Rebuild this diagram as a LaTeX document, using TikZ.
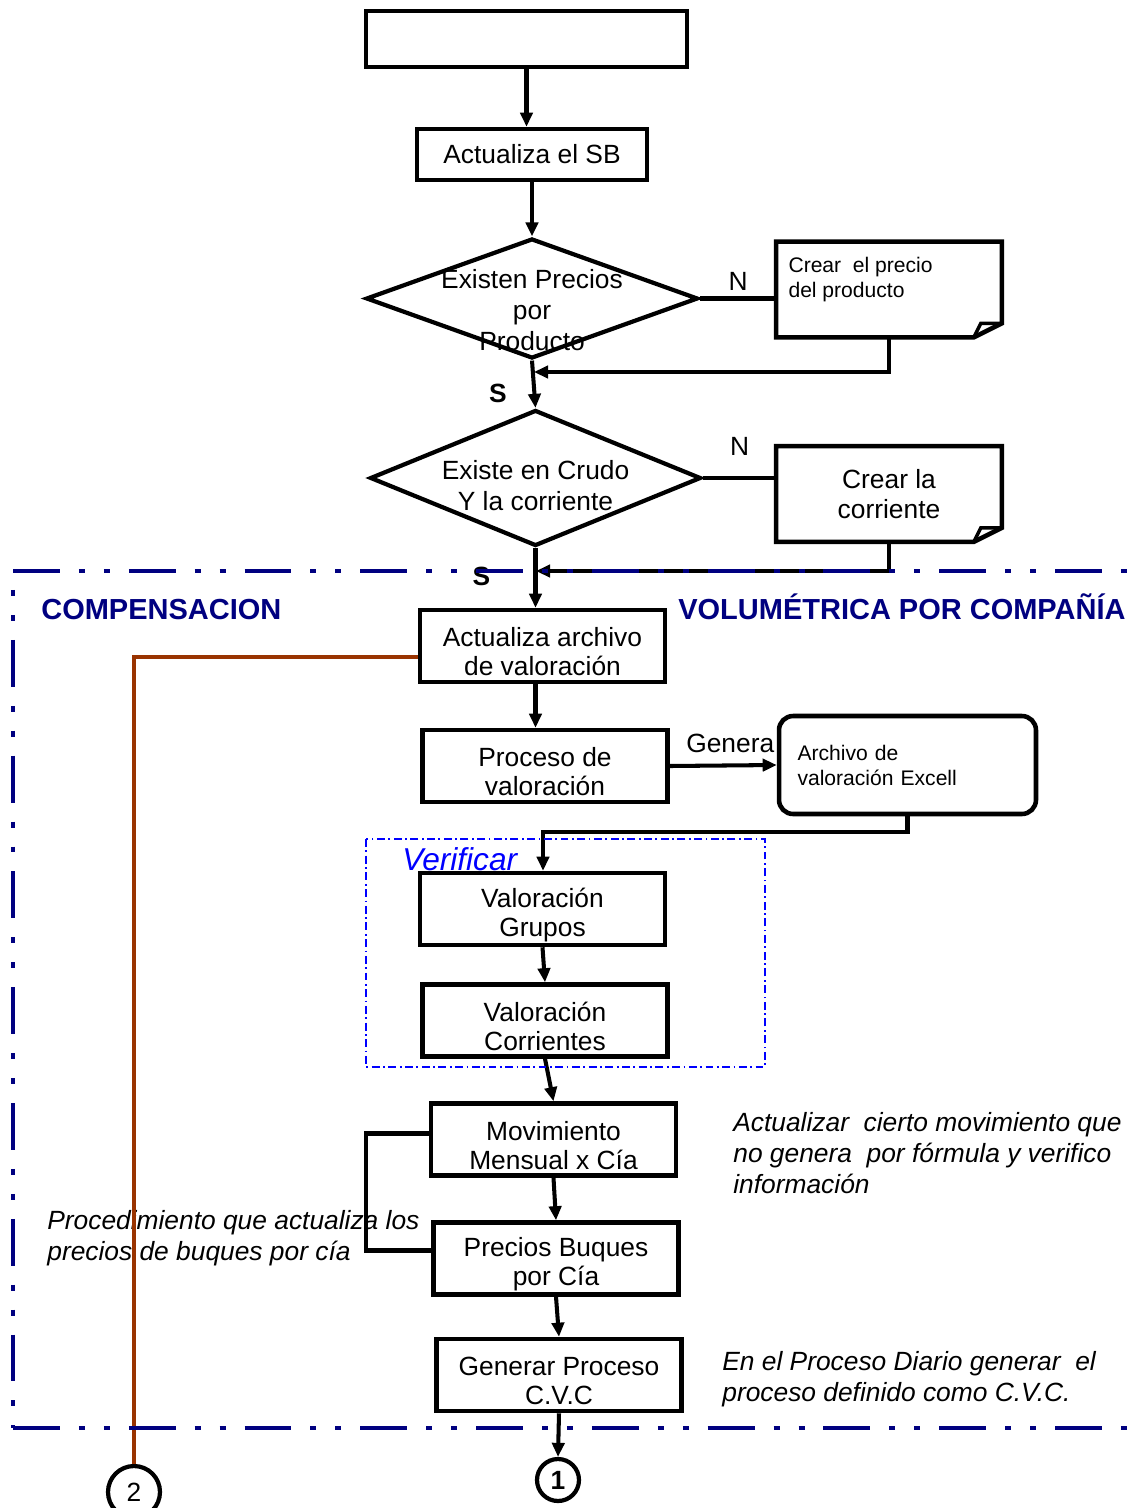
\documentclass[tikz,border=0pt]{standalone}
\usepackage{fontspec}
\setmainfont{Liberation Sans}
\usetikzlibrary{shapes.geometric, arrows.meta, positioning, calc}
\definecolor{navy}{RGB}{0,0,128}
\definecolor{rust}{RGB}{153,51,0}

\begin{document}
\begin{tikzpicture}[
  x=0.02cm, y=-0.02cm,
  box/.style={rectangle, draw, line width=2.6pt, minimum width=4.9cm, minimum height=1.44cm, align=center, inner sep=2pt, font=\fontsize{15}{16.5}\selectfont},
  boxtxt/.style={align=center, inner sep=0pt, yshift=-0.12cm, font=\fontsize{15}{16.5}\selectfont},
  dec/.style={diamond, draw, line width=2.4pt, inner sep=0pt},
  dectxt/.style={align=center, inner sep=0pt, font=\fontsize{15}{17.6}\selectfont},
  note/.style={rectangle, minimum width=4.5cm, minimum height=1.9cm, align=center, font=\fontsize{15}{17.5}\selectfont},
  small/.style={align=left, inner sep=0pt, font=\fontsize{12}{14.2}\selectfont},
  memo/.style={anchor=north west, inner sep=0pt, align=left, font=\fontsize{15}{17.6}\selectfont\itshape},
  title/.style={anchor=base west, inner sep=0pt, text=navy, font=\fontsize{16.5}{19}\selectfont\bfseries},
  lbl/.style={font=\fontsize{15}{17}\selectfont},
  conn/.style={circle, draw, line width=2.4pt, inner sep=0pt, font=\fontsize{15}{17}\selectfont},
  arr/.style={-{Triangle[length=8pt, width=7pt]}, line width=2.3pt},
  link/.style={line width=2.3pt},
  frame/.style={draw=navy, line width=2.6pt, dash pattern=on 26.7pt off 10.8pt on 3.4pt off 10.8pt on 3.4pt off 10.8pt},
  verif/.style={draw=blue, line width=0.9pt, dash pattern=on 4.5pt off 2pt on 1pt off 2pt}
]

\useasboundingbox (0,0) rectangle (1140,1508);

% upper part
\node[box, minimum width=6.42cm, minimum height=1.12cm] (start) at (526.5,39) {};
\node[box, minimum width=4.6cm, minimum height=1.02cm] (sb) at (532,154.5) {Actualiza el SB};
\node[dec, minimum width=6.64cm, minimum height=2.4cm, label={[dectxt, yshift=-0.24cm]center:Existen Precios\\por\\Producto}] (d1) at (532,298.5) {};
\node[note] (crear1) at (889,289.5) {};
\node[small, anchor=north west] (crear1txt) at ($(crear1.north west)+(12,15)$) {Crear\ \ el precio\\del producto};
\node[dec, minimum width=6.62cm, minimum height=2.72cm, label={[dectxt, yshift=-0.16cm]center:Existe en Crudo\\Y la corriente}] (d2) at (535.5,478) {};
\node[note] (crear2) at (889,494) {Crear la\\corriente};

\foreach \n in {crear1,crear2} {
  \draw[line width=2.6pt] (\n.north west) -- (\n.north east) -- ($(\n.south east)+(0,-14)$)
    -- ($(\n.south east)+(-28,0)$) -- (\n.south west) -- cycle;
  \draw[line width=2pt] ($(\n.south east)+(-28,0)$) -- ($(\n.south east)+(-21,-14)$) -- ($(\n.south east)+(0,-14)$);
}

% compensacion block
\node[title] (tleft) at (41,619) {COMPENSACION};
\node[title] (tright) at (678,619) {VOLUMÉTRICA POR COMPAÑÍA};
\node[box, label={[boxtxt]center:Actualiza archivo\\de valoración}] (archivo) at (542.5,646) {};
\node[box, label={[boxtxt]center:Proceso de\\valoración}] (proceso) at (545,766) {};
\node[box, rounded corners=8pt, minimum width=5.14cm, minimum height=1.96cm, text width=4.4cm, align=left, font=\fontsize{12}{14.2}\selectfont] (excel) at (907.5,765) {Archivo de\\valoración Excell};
\node[anchor=north west, inner sep=0pt, text=blue, font=\fontsize{18}{20}\selectfont\itshape] (verlbl) at (402,847) {Verificar};
\node[box, label={[boxtxt]center:Valoración\\Grupos}] (grupos) at (542.5,909) {};
\node[box, label={[boxtxt]center:Valoración\\Corrientes}] (corrientes) at (545,1020.5) {};
\node[box, label={[boxtxt]center:Movimiento\\Mensual x Cía}] (movimiento) at (553.5,1139.5) {};
\node[box, label={[boxtxt]center:Precios Buques\\por Cía}] (buques) at (556,1258.5) {};
\node[box, label={[boxtxt]center:Generar Proceso\\C.V.C}] (cvc) at (559,1375) {};
\node[memo] (memo1) at (733,1112) {Actualizar\ \ cierto movimiento que\\no genera\ \ por fórmula y verifico\\información};
\node[memo] (memo2) at (47,1210) {Procedimiento que actualiza los\\precios de buques por cía};
\node[memo] (memo3) at (722,1351) {En el Proceso Diario generar\ \ el\\proceso definido como C.V.C.};
\node[conn, minimum size=0.84cm] (c1) at (558,1480) {\textbf{1}};
\node[conn, minimum size=1.04cm] (c2) at (134,1492) {2};

\coordinate (j1) at (534,372);
\coordinate (j2) at (536,571);
\coordinate (k1) at (543,832);

% connectors
\draw[arr] (start.south) -- (start.south |- sb.north);
\draw[arr] (sb.south) -- (d1.north);
\draw[link] (d1.east) -- node[lbl, above] {N} (d1.east -| crear1.west);
\draw[arr] (crear1.south) |- (j1);
\draw[arr] (d1.south) -- node[lbl, pos=0.7, left=0.4cm, font=\fontsize{15}{17}\selectfont\bfseries] {S} (d2.north);
\draw[link] (d2.east) -- node[lbl, above=0.3cm] {N} (d2.east -| crear2.west);
\draw[arr] (crear2.south) |- (j2);
\draw[arr] (d2.south) -- node[lbl, pos=0.47, left=0.75cm, font=\fontsize{15}{17}\selectfont\bfseries] {S} (d2.south |- archivo.north);
\draw[arr] (d2.south |- archivo.south) -- (d2.south |- proceso.north);
\draw[arr] (proceso.east) -- node[lbl, above=0.1cm, xshift=0.14cm] {Genera} (excel.west);
\draw[arr] (excel.south) |- (k1) -- (k1 |- grupos.north);
\draw[arr] (grupos.south) -- (corrientes.north);
\draw[arr] (corrientes.south) -- (movimiento.north);
\draw[arr] (movimiento.south) -- (buques.north);
\draw[arr] (buques.south) -- (cvc.north);
\draw[arr] (cvc.south) -- (c1.north);
\draw[link] ($(movimiento.west)+(0,-6)$) -- ++(-63,0) |- ($(buques.west)+(0,-8)$);
\draw[rust, line width=2.4pt] ($(archivo.west)+(0,11)$) -| (c2.north);

% frames
\draw[verif] (366,839) rectangle (765,1067);
\draw[frame] (13,571) -- (1140,571);
\draw[frame, dash phase=26.7pt] (13,571) -- (13,1428);
\draw[frame] (13,1428) -- (1140,1428);

\end{tikzpicture}
\end{document}
